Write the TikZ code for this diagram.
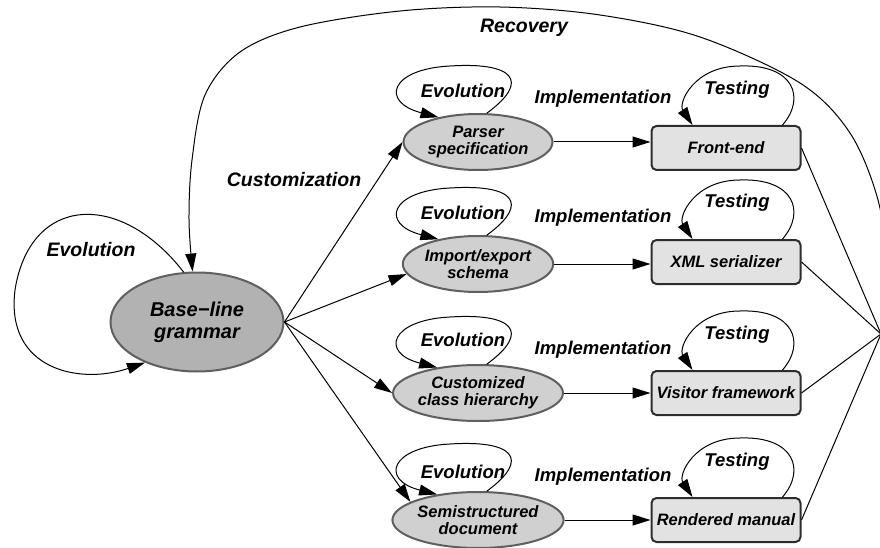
\documentclass[tikz,border=0pt]{standalone}
\usepackage{fontspec}
\setmainfont{Liberation Sans}
\usetikzlibrary{arrows.meta,calc,shapes.geometric}
\definecolor{basefill}{RGB}{178,178,178}
\definecolor{ellfill}{RGB}{208,208,208}
\definecolor{boxfill}{RGB}{226,226,226}
\definecolor{ellline}{RGB}{95,95,95}
\definecolor{boxline}{RGB}{45,45,45}
\begin{document}
\begin{tikzpicture}[x=1pt,y=-1pt,
  arr/.style={line width=1pt,-{Triangle[length=18pt,width=11pt]}},
  conn/.style={line width=1pt},
  basenode/.style={ellipse,draw=ellline,line width=2pt,fill=basefill,minimum width=173pt,minimum height=99pt,inner sep=0pt,align=center,font=\bfseries\itshape\fontsize{20}{22}\selectfont},
  ellnode/.style={ellipse,draw=ellline,line width=2pt,fill=ellfill,minimum width=149pt,minimum height=56pt,inner sep=0pt,align=center,font=\bfseries\itshape\fontsize{16.5}{17}\selectfont},
  boxnode/.style={rectangle,rounded corners=5pt,draw=boxline,line width=2pt,fill=boxfill,minimum width=149pt,minimum height=44pt,inner sep=0pt,align=center,font=\bfseries\itshape\fontsize{16.5}{17}\selectfont},
  lab/.style={font=\bfseries\itshape\fontsize{18.5}{20}\selectfont,inner sep=0pt},
  biglab/.style={font=\bfseries\itshape\fontsize{19.5}{21}\selectfont,inner sep=0pt}]
\useasboundingbox (0,0) rectangle (880,548);

\node[basenode] (base) at (197,322) {Base−line\\grammar};

\node[ellnode] (p1) at (478,142) {Parser\\specification};
\node[ellnode] (p2) at (478,264) {Import/export\\schema};
\node[ellnode] (p3) at (478,393) {Customized\\class hierarchy};
\node[ellnode] (p4) at (478,520) {Semistructured\\document};

\node[boxnode] (b1) at (726,148) {Front-end};
\node[boxnode] (b2) at (726,262) {XML serializer};
\node[boxnode] (b3) at (726,393) {Visitor framework};
\node[boxnode] (b4) at (726,520) {Rendered manual};

\coordinate (conv) at (881,334);

% base evolution loop
\draw[arr] (base.105) .. controls (120,190) and (30,195) .. (15,290)
  .. controls (5,370) and (80,385) .. (base.218);
\node[biglab] (lbev) at (91,250) {Evolution};

% customization edges
\draw[arr] (base.east) -- (p1.west);
\draw[arr] (base.east) -- (p2.188);
\draw[arr] (base.east) -- (p3.west);
\draw[arr] (base.east) -- (p4.165);
\node[biglab] (lcust) at (294,180) {Customization};

% rows
\foreach \n in {1,2,3,4}{
  \draw[arr] (p\n.73) .. controls ($(p\n)+(54,-62)$) and ($(p\n)+(34,-80)$) .. ($(p\n)+(-28,-76)$)
     .. controls ($(p\n)+(-88,-73)$) and ($(p\n)+(-98,-40)$) .. (p\n.148);
  \draw[arr] ($(b\n.north east)+(-19,0)$) .. controls ($(b\n)+(80,-50)$) and ($(b\n)+(68,-84)$) .. ($(b\n)+(14,-82)$)
     .. controls ($(b\n)+(-32,-82)$) and ($(b\n)+(-48,-45)$) .. ($(b\n.north west)+(42,0)$);
  \draw[arr] (p\n.east) -- (p\n.east -| b\n.west);
  \draw[conn] (b\n.east) -- (conv);
}

\node[lab] (le1) at (463,91) {Evolution};
\node[lab] (li1) at (603,99) {Implementation};
\node[lab] (lt1) at (737,90) {Testing};
\node[lab] (le2) at (463,213) {Evolution};
\node[lab] (li2) at (603,218) {Implementation};
\node[lab] (lt2) at (737,203) {Testing};
\node[lab] (le3) at (463,340) {Evolution};
\node[lab] (li3) at (603,350) {Implementation};
\node[lab] (lt3) at (737,335) {Testing};
\node[lab] (le4) at (463,472) {Evolution};
\node[lab] (li4) at (603,477) {Implementation};
\node[lab] (lt4) at (737,462) {Testing};

% recovery
\draw[arr] plot[smooth,tension=0.55] coordinates {(conv) (886,265) (878,200) (850,133) (800,83) (700,37) (600,15) (500,7) (400,11) (300,27) (240,52) (205,95) (192,160) (189,220) (base.95)};
\node[biglab] (lrec) at (524,28) {Recovery};
\end{tikzpicture}
\end{document}
